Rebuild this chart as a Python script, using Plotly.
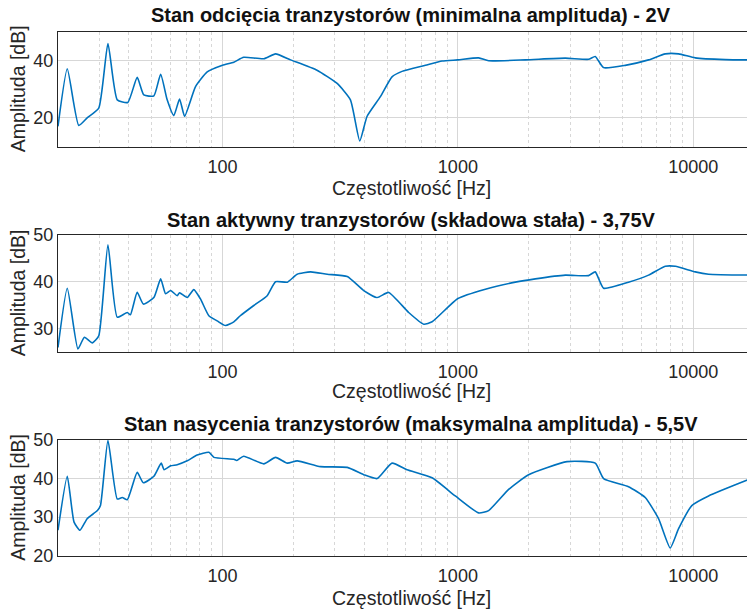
import numpy as np
import plotly.graph_objects as go

# Frequency response data (Hz, dB)
f_cut = [20, 21.9, 24.5, 26.6, 29.8, 32.6, 35.7, 39.6, 43.4, 46.3, 51.1, 54.6, 58.2, 62.1,
         65.7, 69.0, 76.8, 86.1, 100, 111.7, 123, 149.7, 168, 194.6, 252, 307, 349.6, 383,
         411.5, 468.6, 525, 579, 728, 857, 1000, 1225, 1351, 1936, 2860, 3591, 3834, 4160,
         5141, 6459, 7605, 8665, 10200, 13680, 18300]
a_cut = [17.1, 37.1, 17.4, 20.0, 23.4, 45.9, 26.3, 25.4, 34.1, 28.0, 27.7, 35.2, 26.3, 20.8,
         26.6, 20.6, 30.9, 36.0, 38.3, 39.4, 41.1, 40.6, 42.3, 40.2, 36.6, 32.0, 26.3, 12.0,
         20.6, 27.4, 34.3, 36.2, 38.3, 39.8, 40.2, 40.9, 39.9, 40.2, 40.8, 40.4, 41.4, 37.5,
         38.3, 40.2, 42.3, 42.3, 40.9, 40.3, 40.2]

f_act = [20, 21.9, 24.3, 25.9, 28.0, 29.8, 32.6, 35.7, 39.4, 40.6, 43.4, 46.1, 51.1, 54.6,
         57.3, 60.2, 64.2, 65.7, 70.8, 75.5, 80.6, 87.5, 94.9, 103, 111.7, 119, 135.8, 154.8,
         168, 188.5, 207.6, 236.5, 278.5, 338.8, 398, 454, 508, 618, 716, 777, 1000, 1309,
         1755, 2133, 2860, 3591, 3834, 4160, 5310, 6459, 7605, 8400, 10200, 11620, 18300]
a_act = [25.9, 38.6, 25.6, 28.1, 26.9, 28.4, 47.9, 32.4, 33.4, 32.9, 37.7, 35.2, 36.6, 40.6,
         37.4, 38.1, 37.0, 37.6, 36.6, 38.3, 36.3, 32.7, 31.6, 30.6, 31.4, 32.7, 34.9, 37.0,
         40.0, 39.9, 41.6, 42.1, 41.6, 41.1, 38.1, 36.6, 37.7, 33.4, 30.9, 31.4, 36.4, 38.4,
         39.9, 40.6, 41.4, 41.3, 42.1, 38.6, 39.9, 41.4, 43.3, 43.3, 42.1, 41.6, 41.4]

f_sat = [20, 21.9, 23.4, 24.8, 26.6, 29.4, 30.3, 32.6, 35.7, 37.5, 39.4, 43.4, 46.1, 51.1,
         54.9, 56.5, 60.2, 64.2, 70.8, 78.1, 87.5, 91.9, 111.7, 115, 123, 149.7, 168, 188.5,
         207.6, 260.8, 338.8, 398, 454, 525, 608, 777, 975, 1225, 1351, 1644, 1997, 2909,
         3834, 4160, 5310, 6252, 7123, 7985, 8665, 9860, 11620, 18300]
a_sat = [26.6, 40.6, 28.7, 26.6, 29.6, 31.7, 33.0, 49.9, 34.7, 35.1, 34.5, 41.6, 38.9, 40.6,
         44.0, 42.3, 43.3, 43.6, 44.6, 46.1, 46.8, 45.5, 45.0, 44.7, 45.8, 43.8, 45.5, 44.0,
         44.6, 43.1, 42.9, 41.0, 40.0, 44.0, 42.3, 40.2, 35.5, 31.1, 31.7, 37.2, 41.0, 44.4,
         44.0, 40.0, 37.9, 35.1, 29.6, 22.0, 27.0, 33.0, 35.5, 40.4]

titles = ["Stan odcięcia tranzystorów (minimalna amplituda) - 2V",
          "Stan aktywny tranzystorów (składowa stała) - 3,75V",
          "Stan nasycenia tranzystorów (maksymalna amplituda) - 5,5V"]
y_ranges = [[10, 50], [25, 50], [20, 50]]
y_ticks = [[20, 40], [30, 40, 50], [20, 30, 40, 50]]
x_label = "Częstotliwość [Hz]"
y_label = "Amplituda [dB]"

major_x = [100, 1000, 10000]
minor_x = [m * d for d in (10, 100, 1000, 10000) for m in range(2, 10)]

series = [(f_cut, a_cut), (f_act, a_act), (f_sat, a_sat)]

# page body has an 8px margin, so the figure sits at (8, 8) in the window
off = 8
W, H = 755 - off, 612 - off
left = 58 - off
# plot area pixel bounds (top, bottom) for each panel, window coords
panels = [(31.7, 146.7), (235, 351.7), (440, 555.7)]
title_y = [15, 220, 424]
xlab_y = [188, 391, 598]
cx = 411 - off

font = "Liberation Sans, Arial, Helvetica, sans-serif"
ink = "#262626"
grid = "#d7d7d7"

fig = go.Figure()
annotations = []
for i, (f, a) in enumerate(series):
    n = "" if i == 0 else str(i + 1)
    fig.add_trace(go.Scatter(x=f, y=a, mode="lines", xaxis="x" + n, yaxis="y" + n,
                             line=dict(color="#0072BD", width=1.6, shape="spline", smoothing=0.5),
                             showlegend=False, hoverinfo="x+y"))
    top, bot = panels[i][0] - off, panels[i][1] - off
    fig.update_layout({
        "xaxis" + n: dict(type="log", range=[np.log10(20), np.log10(18300)],
                          domain=[left / W, 1], anchor="y" + n, automargin=False,
                          tickvals=major_x, ticktext=[str(v) for v in major_x],
                          showgrid=True, gridcolor=grid, gridwidth=1,
                          minor=dict(tickvals=minor_x, showgrid=True, gridcolor=grid,
                                     griddash="dot", ticks=""),
                          showline=True, linecolor=ink, linewidth=1.2, mirror=True,
                          ticks="", zeroline=False, ticklabelstandoff=4,
                          tickfont=dict(size=18, color=ink, family=font)),
        "yaxis" + n: dict(range=y_ranges[i], tickvals=y_ticks[i],
                          domain=[1 - bot / H, 1 - top / H], anchor="x" + n, automargin=False,
                          showgrid=True, gridcolor=grid, gridwidth=1,
                          showline=True, linecolor=ink, linewidth=1.2, mirror=False,
                          ticks="", zeroline=False,
                          tickfont=dict(size=18, color=ink, family=font)),
    })
    annotations.append(dict(text="<b>" + titles[i] + "</b>", xref="paper", yref="paper",
                            x=cx / W, y=1 - (title_y[i] - off) / H, xanchor="center", yanchor="middle",
                            showarrow=False, font=dict(size=20, color="#111111", family=font)))
    annotations.append(dict(text=x_label, xref="paper", yref="paper",
                            x=cx / W, y=1 - (xlab_y[i] - off) / H, xanchor="center", yanchor="middle",
                            showarrow=False, font=dict(size=19.5, color=ink, family=font)))
    annotations.append(dict(text=y_label, xref="paper", yref="paper", textangle=-90,
                            x=(18 - off) / W, y=1 - (top + bot) / 2 / H, xanchor="center", yanchor="middle",
                            showarrow=False, font=dict(size=19.5, color=ink, family=font)))

fig.update_layout(width=W, height=H, margin=dict(l=0, r=0, t=0, b=0, autoexpand=False),
                  paper_bgcolor="white", plot_bgcolor="white",
                  annotations=annotations)

fig.write_html("out.html")
